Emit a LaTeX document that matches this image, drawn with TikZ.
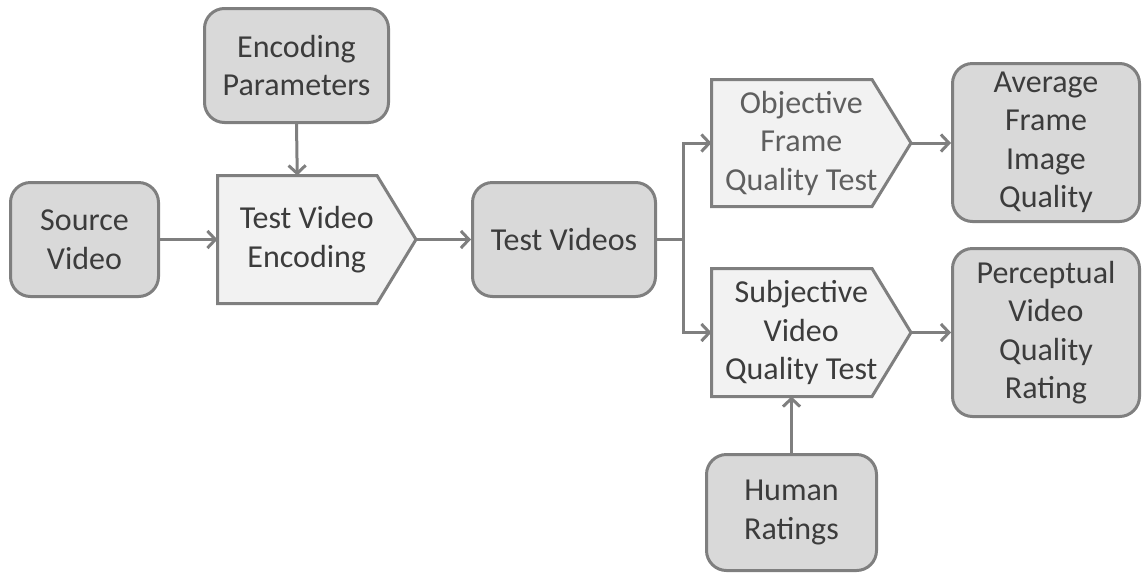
\documentclass[tikz,border=0pt]{standalone}
\usepackage{fontspec}
\setmainfont{Carlito}
\usetikzlibrary{arrows.meta,calc}

\definecolor{edgegray}{HTML}{7F7F7F}
\definecolor{boxfill}{HTML}{D9D9D9}
\definecolor{stepfill}{HTML}{F2F2F2}
\definecolor{inkgray}{HTML}{3C3C3C}
\definecolor{softink}{HTML}{5F5F5F}

\tikzset{
  databox/.style={draw=edgegray, fill=boxfill, line width=3pt, rounded corners=20pt,
    align=center, text=inkgray, inner sep=0pt},
  stepshape/.style={draw=edgegray, fill=stepfill, line width=3pt, line join=miter},
  steptext/.style={align=center, text=inkgray, inner sep=0pt},
  flow/.style={draw=edgegray, line width=3pt,
    -{Straight Barb[length=8pt,width=17pt,line width=3pt]}},
  link/.style={draw=edgegray, line width=3pt}
}

% process step drawn as a box with a pointed right side
% #1 name, #2 left, #3 body right, #4 top, #5 bottom, #6 tip x, #7 options, #8 text
\newcommand\chevbox[8]{%
  \draw[stepshape] (#2,#4) -- (#3,#4) -- (#6,{(#4+#5)/2}) -- (#3,#5) -- (#2,#5) -- cycle;
  \node[steptext,#7] (#1) at ({(#2+#6)/2-10},{(#4+#5)/2}) {#8};
  \coordinate (#1-w) at (#2,{(#4+#5)/2});
  \coordinate (#1-tip) at (#6,{(#4+#5)/2});
  \coordinate (#1-n) at ({(#2+#3)/2},#4);
  \coordinate (#1-s) at ({(#2+#3)/2},#5);
}

\begin{document}
\begin{tikzpicture}[x=1pt,y=-1pt,font=\fontsize{32}{38.5}\selectfont]
\useasboundingbox (0,0) rectangle (1143,574);

% data items
\node[databox, minimum width=148pt, minimum height=114pt] (src) at (84.5,239.5) {Source\\Video};
\node[databox, minimum width=184pt, minimum height=114pt] (par) at (296.5,65.5) {Encoding\\Parameters};
\node[databox, minimum width=183pt, minimum height=114pt] (tv) at (564,239.5) {Test Videos};
\node[databox, minimum width=187pt, minimum height=158pt] (avg) at (1046,142.5) {Average\\Frame\\Image\\Quality};
\node[databox, minimum width=187pt, minimum height=168pt] (pvq) at (1046,332.5) {Perceptual\\Video\\Quality\\Rating};
\node[databox, minimum width=170pt, minimum height=116pt] (hum) at (791.5,512.5) {Human\\Ratings};

% processing steps
\chevbox{enc}{217.5}{377}{175.5}{303.5}{416}{}{Test Video\\Encoding}
\chevbox{obj}{711.5}{872}{79.5}{206.5}{911}{text=softink}{Objective\\Frame\\Quality Test}
\chevbox{sub}{711.5}{872}{268.5}{396.5}{911}{}{Subjective\\Video\\Quality Test}

% connectors
\draw[flow] (src.east) -- (enc-w);
\draw[flow] (par.south) -- (enc-n);
\draw[flow] (enc-tip) -- (tv.west);
\coordinate (split) at (683,239.5);
\draw[link] (tv.east) -- (split);
\draw[flow] (split) |- (obj-w);
\draw[flow] (split) |- (sub-w);
\draw[flow] (obj-tip) -- (obj-tip -| avg.west);
\draw[flow] (sub-tip) -- (sub-tip -| pvq.west);
\draw[flow] (hum.north) -- (hum.north |- sub-s);
\end{tikzpicture}
\end{document}
